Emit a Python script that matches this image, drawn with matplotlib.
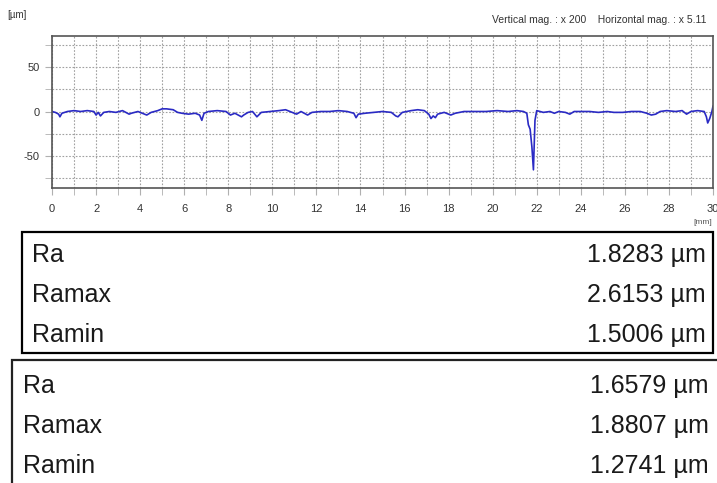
import matplotlib
matplotlib.use("Agg")
import matplotlib.pyplot as plt
from matplotlib.patches import Rectangle
from matplotlib.ticker import MultipleLocator

plt.rcParams['font.family'] = ['Liberation Sans', 'DejaVu Sans']
plt.rcParams['axes.unicode_minus'] = False

# roughness profile (x in mm, height in um)
x_mm = [0.0, 0.15, 0.3, 0.36, 0.45, 0.7, 1.0, 1.3, 1.6, 1.9, 2.0, 2.1, 2.2, 2.35,
        2.6, 2.9, 3.2, 3.5, 3.6, 3.9, 4.2, 4.3, 4.5, 4.8, 5.0, 5.2, 5.5, 5.7, 5.9,
        6.2, 6.5, 6.7, 6.8, 6.9, 7.1, 7.5, 7.9, 8.1, 8.3, 8.6, 8.7, 8.9, 9.1, 9.3,
        9.5, 9.9, 10.3, 10.6, 10.8, 11.1, 11.3, 11.6, 11.8, 12.2, 12.6, 13.0, 13.4,
        13.7, 13.8, 13.9, 14.2, 14.6, 15.0, 15.4, 15.6, 15.7, 15.9, 16.3, 16.6,
        16.9, 17.1, 17.2, 17.3, 17.4, 17.5, 17.8, 18.1, 18.3, 18.7, 19.2, 19.7,
        20.2, 20.7, 21.1, 21.4, 21.55, 21.62, 21.7, 21.78, 21.85, 21.92, 22.0,
        22.3, 22.6, 22.8, 23.0, 23.3, 23.5, 23.7, 24.0, 24.4, 24.8, 25.2, 25.5,
        25.9, 26.3, 26.7, 27.0, 27.2, 27.4, 27.6, 27.9, 28.3, 28.6, 28.8, 29.0,
        29.3, 29.6, 29.7, 29.76, 29.85, 29.95, 30.0]
z_um = [0, -1, -3, -6, -2, 0, 1, 0, 1, 0, -4, -1, -5, -1,
        0, -1, 1, -3, -2, 0, -3, -4, -1, 1, 3, 3, 2, -1, -2,
        -3, -2, -4, -10, -2, 0, 1, 0, -4, -2, -6, -4, -1, 0, -6,
        -1, 0, 1, 2, 0, -3, 0, -4, -1, 0, 0, 1, 0,
        -2, -7, -3, -2, -1, 0, -1, -5, -6, -1, 1, 2,
        1, -3, -8, -5, -7, -3, -1, -4, -2, 0, 0, 0,
        1, 0, 1, 0, -2, -15, -20, -40, -66, -10, 1,
        -1, 0, -2, 0, -1, -3, 0, 0, 0, -1, 0, -1,
        -1, 0, 0, -2, -4, -3, 0, 1, 0, 1, -3, 0,
        1, 0, -6, -13, -8, 0, 6]

params = ['Ra', 'Ramax', 'Ramin']
values_1 = ['1.8283 µm', '2.6153 µm', '1.5006 µm']
values_2 = ['1.6579 µm', '1.8807 µm', '1.2741 µm']

W, H = 717, 483
fig = plt.figure(figsize=(W / 100, H / 100), dpi=100)

def fx(px):
    return px / W

def fy(py):
    return 1 - py / H

ax = fig.add_axes([fx(52), fy(187.5), fx(661), 152 / H])
ax.plot(x_mm, z_um, color='#2a2ac4', lw=1.2)
ax.set_xlim(0, 30)
ax.set_ylim(-86, 86)
ax.xaxis.set_major_locator(MultipleLocator(2))
ax.xaxis.set_minor_locator(MultipleLocator(1))
ax.yaxis.set_major_locator(MultipleLocator(50))
ax.yaxis.set_minor_locator(MultipleLocator(25))
ax.grid(which='both', color='#a0a0a0', ls=(0, (1.5, 1.5)), lw=0.8)
ax.tick_params(which='both', length=5, color='#b0b0b0', labelsize=8, labelcolor='#333333')
ax.tick_params(axis='x', pad=7)
ax.tick_params(axis='y', pad=4)
for s in ax.spines.values():
    s.set_color('#555555')
    s.set_linewidth(1.2)

fig.text(fx(7), fy(15), '[µm]', fontsize=7, color='#333333', va='center')
fig.text(fx(707), fy(20), 'Vertical mag. : x 200    Horizontal mag. : x 5.11',
         fontsize=7.5, color='#333333', va='center', ha='right')
fig.text(fx(712), fy(222), '[mm]', fontsize=6, color='#555555', va='center', ha='right')

# the two result boxes
fig.patches.append(Rectangle((fx(22), fy(353)), fx(691), 121 / H, transform=fig.transFigure,
                             fill=False, ec='black', lw=1.6))
fig.patches.append(Rectangle((fx(12), fy(500)), fx(720), 140 / H, transform=fig.transFigure,
                             fill=False, ec='#222222', lw=1.6, clip_on=False))

for i, p in enumerate(params):
    yb = 262 + 40 * i
    fig.text(fx(32), fy(yb), p, fontsize=18, color='#1a1a1a', va='baseline')
    fig.text(fx(706), fy(yb), values_1[i], fontsize=18, color='#1a1a1a', va='baseline', ha='right')
    yb2 = 393 + 40 * i
    fig.text(fx(23), fy(yb2), p, fontsize=18, color='#1a1a1a', va='baseline')
    fig.text(fx(709), fy(yb2), values_2[i], fontsize=18, color='#1a1a1a', va='baseline', ha='right')

fig.savefig('out.png', dpi=100)
